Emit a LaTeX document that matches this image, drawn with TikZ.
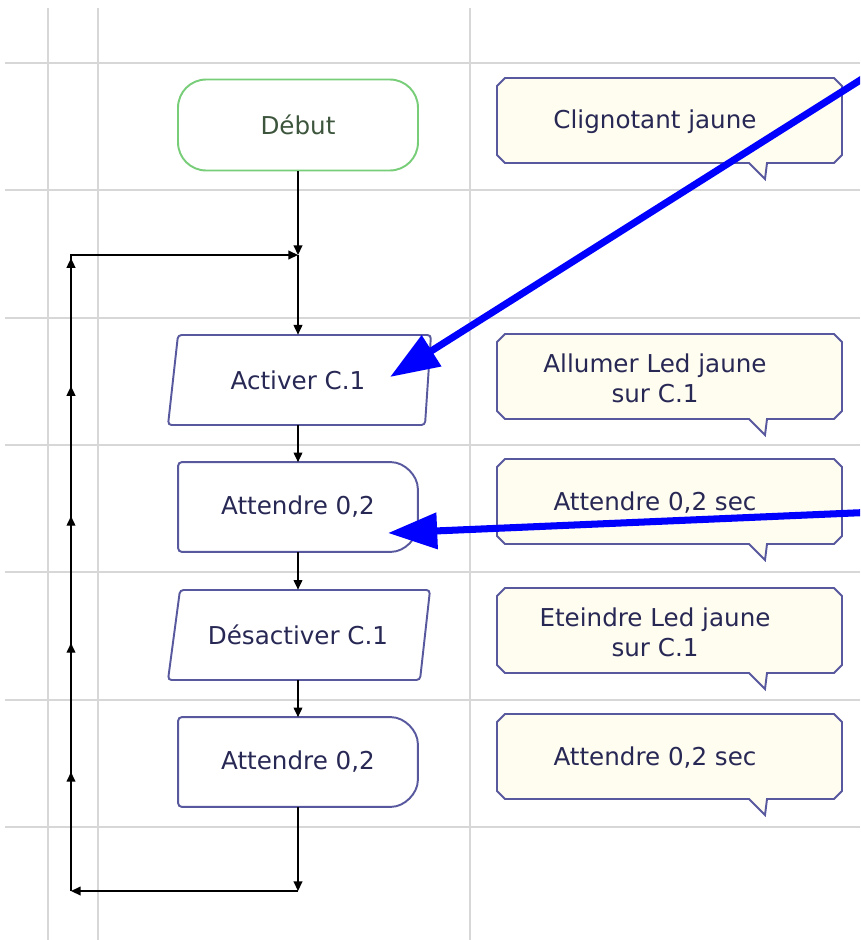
\documentclass[tikz,border=0pt]{standalone}
\usepackage{fontspec}
\setmainfont{DejaVu Sans}
\usepackage{tikz}
\usetikzlibrary{arrows.meta,decorations.markings,backgrounds}

\definecolor{bordure}{RGB}{88,88,158}
\definecolor{texte}{RGB}{40,40,85}
\definecolor{creme}{RGB}{255,252,240}
\definecolor{vert}{RGB}{120,205,120}
\definecolor{textevert}{RGB}{60,85,60}
\definecolor{gris}{RGB}{215,215,215}

% callout outline round a text node
\newcommand{\bulle}[1]{%
  \draw[bullecadre] ([shift={(-150,-44)}]#1.center) -- ([shift={(179,-44)}]#1.center)
    -- ([shift={(187,-36)}]#1.center) -- ([shift={(187,33)}]#1.center)
    -- ([shift={(179,41)}]#1.center) -- ([shift={(112,41)}]#1.center)
    -- ([shift={(110,57)}]#1.center) -- ([shift={(94,41)}]#1.center)
    -- ([shift={(-150,41)}]#1.center) -- ([shift={(-158,33)}]#1.center)
    -- ([shift={(-158,-36)}]#1.center) -- cycle;}
% wait block, rounded on the right
\newcommand{\attente}[1]{%
  \draw[cadre] (#1.north west) -- ([shift={(-30,0)}]#1.north east)
    arc[start angle=90, end angle=0, radius=0.6cm]
    -- ([shift={(0,-30)}]#1.south east)
    arc[start angle=0, end angle=-90, radius=0.6cm]
    -- (#1.south west) -- cycle;}

\begin{document}
\begin{tikzpicture}[x=0.02cm, y=-0.02cm,
    txt/.style={font=\fontsize{14}{17}\selectfont, text=texte, inner sep=0pt, align=center},
    debut/.style={txt, text=textevert, draw=vert, line width=1.1pt, rounded corners=16pt,
        minimum width=4.8cm, minimum height=1.82cm},
    etape/.style={txt, minimum width=5.12cm, minimum height=1.8cm},
    attendre/.style={txt, minimum width=4.78cm, minimum height=1.78cm},
    cadre/.style={draw=bordure, line width=1.1pt, fill=white, rounded corners=2pt},
    bullecadre/.style={draw=bordure, line width=1.1pt, fill=creme},
    grille/.style={draw=gris, line width=0.8pt},
    fleche/.style={draw=black, line width=0.8pt, -{Triangle[length=5.5pt,width=5pt]}},
    boucle/.style={fleche, postaction={decorate}, decoration={markings,
        mark=at position 2.38cm with {\arrow{Triangle[length=5.5pt,width=5pt]}},
        mark=at position 4.96cm with {\arrow{Triangle[length=5.5pt,width=5pt]}},
        mark=at position 7.5cm with {\arrow{Triangle[length=5.5pt,width=5pt]}},
        mark=at position 10.1cm with {\arrow{Triangle[length=5.5pt,width=5pt]}},
        mark=at position 12.66cm with {\arrow{Triangle[length=5.5pt,width=5pt]}}}},
    bleu/.style={draw=blue, line width=4pt, -{Triangle[length=28pt,width=20pt]}}]
    \useasboundingbox (0,0) rectangle (860,940);
    \clip (0,0) rectangle (860,940);

    % grid
    \begin{scope}[on background layer]
        \foreach \x in {48,98,470}
            \draw[grille] (\x,8) -- (\x,940);
        \foreach \y in {63,190,318,445,572,700,827}
            \draw[grille] (5,\y) -- (860,\y);
    \end{scope}

    % flowchart
    \node[debut] (debut) at (298,125) {Début};
    \node[etape] (act) at (298,380) {Activer C.1};
    \node[attendre] (w1) at (298,507) {Attendre 0,2};
    \node[etape] (des) at (298,635) {Désactiver C.1};
    \node[attendre] (w2) at (298,762) {Attendre 0,2};

    % comments
    \node[txt] (b0) at (655,122) {Clignotant jaune};
    \node[txt] (b1) at (655,378) {Allumer Led jaune\\sur C.1};
    \node[txt] (b2) at (655,503) {Attendre 0,2 sec};
    \node[txt] (b3) at (655,632) {Eteindre Led jaune\\sur C.1};
    \node[txt] (b4) at (655,758) {Attendre 0,2 sec};

    \begin{scope}[on background layer]
        \draw[cadre] ([shift={(-120,-45)}]act.center) -- ([shift={(133,-45)}]act.center)
            -- ([shift={(127,45)}]act.center) -- ([shift={(-130,45)}]act.center) -- cycle;
        \draw[cadre] ([shift={(-118,-45)}]des.center) -- ([shift={(132,-45)}]des.center)
            -- ([shift={(122,45)}]des.center) -- ([shift={(-130,45)}]des.center) -- cycle;
        \attente{w1}
        \attente{w2}
        \foreach \b in {b0,b1,b2,b3,b4}{\bulle{\b}}
    \end{scope}

    % loop
    \coordinate (j) at (298,255);
    \coordinate (h) at (71,255);
    \coordinate (g) at (71,891);
    \coordinate (k) at (298,891);
    \draw[fleche] (debut.south) -- (j);
    \draw[fleche] (j) -- (act.north);
    \draw[fleche] (act.south) -- (w1.north);
    \draw[fleche] (w1.south) -- (des.north);
    \draw[fleche] (des.south) -- (w2.north);
    \draw[fleche] (w2.south) -- (k);
    \draw[fleche] (k) -- (g);
    \draw[boucle] (g) -- (h) -- (j);

    % blue pointers
    \coordinate (f1) at (900,55);
    \coordinate (p1) at ([shift={(92,-3)}]act.center);
    \coordinate (f2) at (900,511);
    \coordinate (p2) at ([shift={(90,26)}]w1.center);
    \draw[bleu] (f1) -- (p1);
    \draw[bleu] (f2) -- (p2);
\end{tikzpicture}
\end{document}
